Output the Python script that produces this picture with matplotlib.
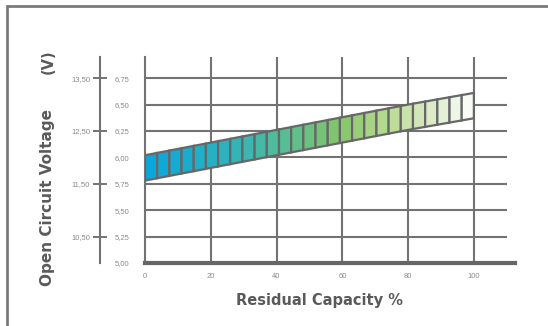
import numpy as np
import matplotlib
matplotlib.use("Agg")
import matplotlib.pyplot as plt
from matplotlib.colors import LinearSegmentedColormap
from matplotlib.patches import Polygon, Rectangle

# Residual capacity (%) vs. per-cell open circuit voltage band
capacity_pts = [0, 20, 40, 60, 80, 100]
v_low = [5.78, 5.90, 6.02, 6.14, 6.26, 6.37]
v_high = [6.02, 6.14, 6.26, 6.38, 6.50, 6.61]
n_segments = 27

x_ticks = [0, 20, 40, 60, 80, 100]
y_ticks = [5.00, 5.25, 5.50, 5.75, 6.00, 6.25, 6.50, 6.75]
outer_ticks = [10.50, 11.50, 12.50, 13.50]

W, H = 548, 326
fig = plt.figure(figsize=(W / 100, H / 100), dpi=100)
plt.rcParams['font.family'] = ['Liberation Sans', 'DejaVu Sans']

# outer frame (only its top and left edges fall inside the canvas)
fig.patches.append(Rectangle((7 / W, -0.1), 1.2, (1 - 6 / H) + 0.1,
                             transform=fig.transFigure, fill=False,
                             edgecolor='#7a7a7a', linewidth=2.0))

ax = fig.add_axes([145 / W, 1 - 263 / H, 370 / W, (263 - 57) / H])
ax.set_xlim(0, 112.5)
ax.set_ylim(5.0, 6.95)

grid_c = '#737373'
ax.hlines(y_ticks[1:], 0, 110, color=grid_c, linewidth=1.5, zorder=1)
ax.vlines(x_ticks[1:], 5.0, 6.95, color=grid_c, linewidth=1.5, zorder=1)

for s in ['top', 'right']:
    ax.spines[s].set_visible(False)
ax.spines['left'].set_color(grid_c)
ax.spines['left'].set_linewidth(1.5)
ax.spines['bottom'].set_color('#666666')
ax.spines['bottom'].set_linewidth(3.0)

ax.set_xticks(x_ticks)
ax.set_xticklabels([str(v) for v in x_ticks])
ax.set_yticks(y_ticks)
ax.set_yticklabels([f"{v:.2f}".replace('.', ',') for v in y_ticks])
ax.tick_params(axis='both', length=0, labelsize=5.5, labelcolor='#8a8a8a')
ax.tick_params(axis='y', pad=11)
ax.tick_params(axis='x', pad=7)

# segmented gradient band
cmap = LinearSegmentedColormap.from_list('band', [
    (0.0, '#0aa6dc'), (0.25, '#2fb3bb'), (0.45, '#5dbf8e'),
    (0.6, '#86c56a'), (0.75, '#b9db93'), (0.9, '#dfeccd'), (1.0, '#f8faf5')])
edges = np.linspace(capacity_pts[0], capacity_pts[-1], n_segments + 1)
for i in range(n_segments):
    x0, x1 = edges[i], edges[i + 1]
    lo0, lo1 = np.interp([x0, x1], capacity_pts, v_low)
    hi0, hi1 = np.interp([x0, x1], capacity_pts, v_high)
    poly = Polygon([(x0, lo0), (x1, lo1), (x1, hi1), (x0, hi0)], closed=True,
                   facecolor=cmap(i / (n_segments - 1)), edgecolor='#676767',
                   linewidth=1.6, zorder=3, joinstyle='miter')
    ax.add_patch(poly)

# secondary (battery) voltage scale
sec = ax.secondary_yaxis(-45 / 370,
                         functions=(lambda v: v * 2, lambda v: v / 2))
sec.set_yticks(outer_ticks)
sec.set_yticklabels([f"{v:.2f}".replace('.', ',') for v in outer_ticks])
sec.spines['left'].set_color(grid_c)
sec.spines['left'].set_linewidth(1.5)
sec.tick_params(axis='y', direction='inout', length=10, width=1.4,
                color=grid_c, labelsize=5.5, labelcolor='#8a8a8a', pad=2)

lab_font = ['DejaVu Sans']
fig.text(320 / W, 1 - 301 / H, 'Residual Capacity %', ha='center', va='center',
         fontsize=10.5, fontweight='bold', color='#5a5a5a', family=lab_font)
fig.text(48 / W, 1 - 197 / H, 'Open Circuit Voltage', ha='center', va='center',
         rotation=90, fontsize=11, fontweight='bold', color='#5a5a5a',
         family=lab_font)
fig.text(48 / W, 1 - 62 / H, '(V)', ha='center', va='center',
         rotation=90, fontsize=10.5, fontweight='bold', color='#5a5a5a',
         family=lab_font)

fig.savefig('out.png', dpi=100)
